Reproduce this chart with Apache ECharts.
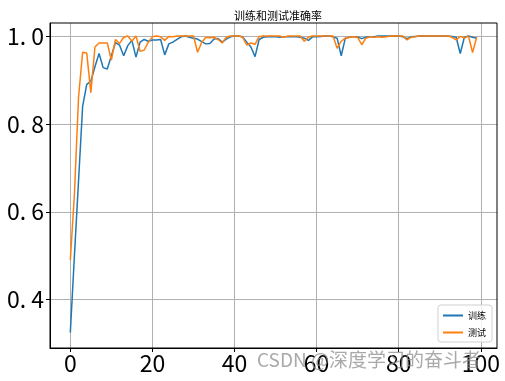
<!DOCTYPE html>
<html>
<head>
<meta charset="utf-8">
<script src="https://cdn.jsdelivr.net/npm/echarts@6/dist/echarts.min.js"></script>
<style>html,body{margin:0;padding:0;background:#fff;}#c{width:505px;height:381px;}</style>
</head>
<body>
<div id="c"></div>
<script>
const epochs = Array.from({length: 100}, (_, i) => i);
const trainAcc = [0.325,0.50,0.67,0.840,0.890,0.897,0.930,0.960,0.928,0.925,
0.955,0.985,0.979,0.955,0.978,0.990,0.952,0.986,0.992,0.988,
0.991,0.991,0.992,0.957,0.982,0.986,0.992,0.998,1.0,0.997,
0.995,0.993,0.987,0.982,0.983,0.993,0.994,0.986,0.993,0.998,
1.0,1.0,0.998,0.986,0.975,0.953,0.992,0.997,0.998,0.999,
0.998,0.997,0.998,0.998,0.998,0.998,0.997,0.995,0.990,0.998,
0.998,0.999,1.0,1.0,0.998,0.995,0.955,0.995,0.997,0.998,
0.998,0.994,0.997,0.998,0.998,1.0,1.0,1.0,1.0,1.0,
1.0,0.998,0.994,0.998,0.999,1.0,1.0,1.0,1.0,1.0,
1.0,1.0,1.0,0.999,0.997,0.960,0.997,1.0,0.997,0.995];
const testAcc = [0.49,0.64,0.86,0.963,0.961,0.871,0.975,0.984,0.984,0.984,
0.945,0.992,0.983,0.997,1.0,0.988,1.0,0.965,0.968,0.986,
0.998,1.0,0.998,0.990,0.999,0.998,1.0,1.0,1.0,1.0,
1.0,0.963,0.985,0.997,0.996,0.997,0.992,0.984,0.997,1.0,
1.0,1.0,0.997,0.979,0.984,0.981,0.999,1.0,1.0,1.0,
1.0,1.0,0.997,1.0,1.0,1.0,1.0,0.988,0.997,1.0,
1.0,1.0,1.0,1.0,1.0,0.972,0.988,0.995,0.997,0.998,
0.997,0.980,0.995,0.998,0.997,0.998,0.997,0.998,1.0,1.0,
1.0,1.0,0.991,0.997,0.998,1.0,1.0,1.0,1.0,1.0,
1.0,1.0,1.0,0.997,0.991,0.999,0.995,1.0,0.962,0.997];
const xTicks = [0, 20, 40, 60, 80, 100];
const yTicks = [0.4, 0.6, 0.8, 1.0];
const titleText = '训练和测试准确率';
const seriesNames = ['训练', '测试'];
const watermark = 'CSDN @深度学习的奋斗者';

const chart = echarts.init(document.getElementById('c'), null, {renderer: 'canvas'});
const font = '"Noto Sans CJK SC", "DejaVu Sans", sans-serif';
chart.setOption({
  animation: false,
  backgroundColor: '#fff',
  title: {
    text: titleText, left: 273, top: 5, textAlign: 'center',
    textStyle: {fontSize: 11, fontWeight: 'normal', color: '#000', fontFamily: font}
  },
  grid: {left: 50, right: 8, top: 23, bottom: 33, containLabel: false},
  legend: {
    data: seriesNames, orient: 'vertical', right: 13, bottom: 39,
    icon: 'rect', itemWidth: 20, itemHeight: 2, itemGap: 8,
    borderColor: '#d0d0d0', borderWidth: 1, borderRadius: 3, padding: [6, 6, 5, 5],
    backgroundColor: 'rgba(255,255,255,0.8)',
    textStyle: {fontSize: 9, color: '#000', fontFamily: font}
  },
  xAxis: {
    type: 'value', min: -4.95, max: 103.95,
    axisLine: {show: true, onZero: false, lineStyle: {color: '#000', width: 1}},
    axisTick: {show: true, length: 4, customValues: xTicks, lineStyle: {color: '#000'}},
    axisLabel: {customValues: xTicks, fontSize: 23, color: '#000', margin: 4, fontFamily: font},
    splitLine: {show: true, lineStyle: {color: '#b0b0b0', width: 1}}
  },
  yAxis: {
    type: 'value', min: 0.29, max: 1.0295,
    axisLine: {show: true, onZero: false, lineStyle: {color: '#000', width: 1}},
    axisTick: {show: true, length: 4, customValues: yTicks, lineStyle: {color: '#000'}},
    axisLabel: {customValues: yTicks, fontSize: 23, color: '#000', margin: 6, fontFamily: font,
      formatter: v => v.toFixed(1).replace('.', '. ')},
    splitLine: {show: true, lineStyle: {color: '#b0b0b0', width: 1}}
  },
  graphic: [
    {type: 'rect', shape: {x: 50, y: 23, width: 447, height: 325}, style: {fill: 'none', stroke: '#000', lineWidth: 1}, silent: true, z: 10},
    {type: 'text', left: 257, top: 350, z: 20, style: {text: watermark, fontSize: 19, fill: 'rgba(140,140,140,0.75)', fontFamily: font}}
  ],
  series: [
    {name: seriesNames[0], type: 'line', data: epochs.map((e, i) => [e, trainAcc[i]]), showSymbol: false,
     lineStyle: {color: '#1f77b4', width: 1.5}, itemStyle: {color: '#1f77b4'}},
    {name: seriesNames[1], type: 'line', data: epochs.map((e, i) => [e, testAcc[i]]), showSymbol: false,
     lineStyle: {color: '#ff7f0e', width: 1.5}, itemStyle: {color: '#ff7f0e'}}
  ]
});
</script>
</body>
</html>
